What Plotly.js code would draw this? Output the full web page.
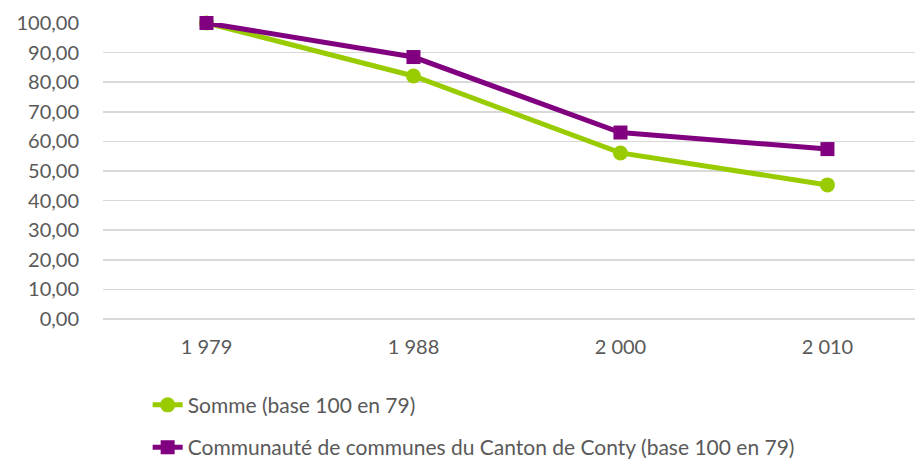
<!DOCTYPE html>
<html><head><meta charset="utf-8">
<script src="https://cdn.plot.ly/plotly-3.0.1.min.js"></script>
<style>html,body{margin:0;padding:0;background:#fff;}#chart{width:915px;height:459px;}</style>
</head><body><div id="chart"></div>
<script>
const years = ["1 979", "1 988", "2 000", "2 010"];
const sommeValues = [100, 82.1, 56.1, 45.3];
const contyValues = [100, 88.5, 63.0, 57.4];
const sommeName = "Somme (base 100 en 79)";
const contyName = "Communauté de communes du Canton de Conty (base 100 en 79)";

const font = "Lato, 'Open Sans', sans-serif";
const traces = [
  {x: years, y: sommeValues, name: sommeName, legendgroup: "a", type: "scatter", mode: "lines+markers", cliponaxis: false,
   line: {color: "#99CC00", width: 5}, marker: {symbol: "circle", size: 15, color: "#99CC00"}},
  {x: years, y: contyValues, name: contyName, legendgroup: "b", type: "scatter", mode: "lines+markers", cliponaxis: false,
   line: {color: "#800080", width: 5}, marker: {symbol: "square", size: 14, color: "#800080"}}
];
const layout = {
  width: 915, height: 459,
  margin: {l: 103, r: 0, t: 22.5, b: 139.5, autoexpand: false},
  paper_bgcolor: "#fff", plot_bgcolor: "#fff",
  separators: ", ",
  font: {family: font, color: "#595959", size: 20},
  showlegend: true,
  legend: {orientation: "v", x: 0.055, xanchor: "left", y: -0.222, yanchor: "top",
    font: {size: 21, color: "#595959"}, tracegroupgap: 12, bgcolor: "rgba(0,0,0,0)"},
  xaxis: {type: "category", range: [-0.5, 3.423], showgrid: false, zeroline: false,
    showline: false, ticks: "", tickfont: {size: 20, color: "#595959"}, ticklabelstandoff: 14},
  yaxis: {range: [0, 100], dtick: 10, tickformat: ".2f", showgrid: true, gridcolor: "#d9d9d9",
    gridwidth: 1.5, zeroline: true, zerolinecolor: "#d9d9d9", zerolinewidth: 1.5, showline: false,
    ticks: "", tickfont: {size: 20, color: "#595959"}, ticklabelstandoff: 23}
};
Plotly.newPlot("chart", traces, layout, {displayModeBar: false, staticPlot: true});
</script></body></html>
